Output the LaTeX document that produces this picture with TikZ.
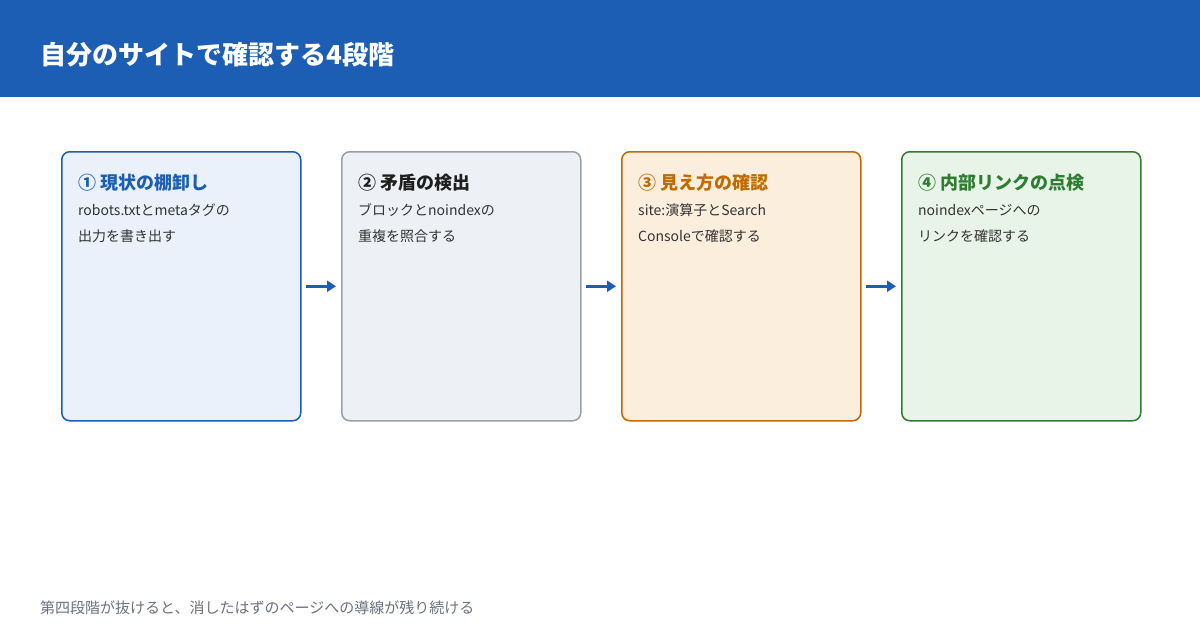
\documentclass[tikz,border=0pt]{standalone}
\usepackage{fontspec}
\setmainfont{Noto Sans CJK JP}
\usetikzlibrary{arrows.meta}
\definecolor{hdr}{HTML}{1B5EB4}
\definecolor{txt}{HTML}{333333}
\definecolor{foot}{HTML}{6B7280}
\definecolor{fA}{HTML}{EAF1FA}\definecolor{dA}{HTML}{1B5EB4}
\definecolor{fB}{HTML}{EDF1F5}\definecolor{dB}{HTML}{9AA0A8}\definecolor{tB}{HTML}{1F1F1F}
\definecolor{fC}{HTML}{FBEEDD}\definecolor{dC}{HTML}{C06A00}
\definecolor{fD}{HTML}{E9F4E8}\definecolor{dD}{HTML}{2E7D32}
\begin{document}
\begin{tikzpicture}[x=1pt,y=-1pt,
  box/.style={draw=#1,line width=1.5pt,rounded corners=8pt,minimum width=239pt,minimum height=269pt,anchor=north west,inner sep=0pt},
  ttl/.style={anchor=west,inner sep=0pt,font=\bfseries\fontsize{18}{20}\selectfont,text=#1},
  bdy/.style={anchor=west,inner sep=0pt,font=\fontsize{14}{16}\selectfont,text=txt},
  arr/.style={draw=hdr,line width=3pt,-{Triangle[length=9pt,width=11pt]},shorten <=4pt,shorten >=5pt}]
\useasboundingbox (0,0) rectangle (1200,630);
\fill[white] (0,0) rectangle (1200,630);
\fill[hdr] (0,0) rectangle (1200,97);
\node[anchor=west,inner sep=0pt,text=white,font=\bfseries\fontsize{26}{30}\selectfont] (title) at (40,55) {自分のサイトで確認する4段階};
\node[box=dA,fill=fA] (b1) at (61,151) {};
\node[box=dB,fill=fB] (b2) at (341,151) {};
\node[box=dC,fill=fC] (b3) at (621,151) {};
\node[box=dD,fill=fD] (b4) at (901,151) {};
\node[ttl=dA] (t1) at (78,183) {① 現状の棚卸し};
\node[bdy] (p1a) at (78,210) {robots.txtとmetaタグの};
\node[bdy] (p1b) at (78,236) {出力を書き出す};
\node[ttl=tB] (t2) at (358,183) {② 矛盾の検出};
\node[bdy] (p2a) at (358,210) {ブロックとnoindexの};
\node[bdy] (p2b) at (358,236) {重複を照合する};
\node[ttl=dC] (t3) at (638,183) {③ 見え方の確認};
\node[bdy] (p3a) at (638,210) {site:演算子とSearch};
\node[bdy] (p3b) at (638,236) {Consoleで確認する};
\node[ttl=dD] (t4) at (918,183) {④ 内部リンクの点検};
\node[bdy] (p4a) at (918,210) {noindexページへの};
\node[bdy] (p4b) at (918,236) {リンクを確認する};
\draw[arr] (b1.east) -- (b2.west);
\draw[arr] (b2.east) -- (b3.west);
\draw[arr] (b3.east) -- (b4.west);
\node[anchor=west,inner sep=0pt,text=foot,font=\fontsize{15}{17}\selectfont] (ft) at (40,608) {第四段階が抜けると、消したはずのページへの導線が残り続ける};
\end{tikzpicture}
\end{document}
